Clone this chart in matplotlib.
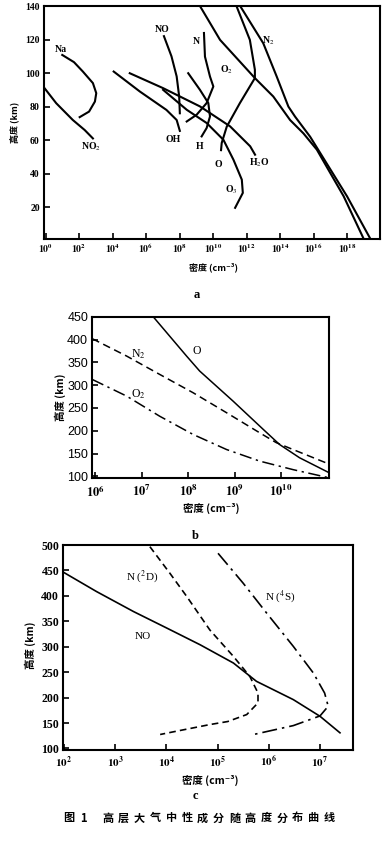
import numpy as np
import matplotlib
matplotlib.use('Agg')
import matplotlib.pyplot as plt

plt.rcParams['mathtext.fontset'] = 'stix'
plt.rcParams['font.family'] = ['Liberation Serif', 'DejaVu Serif']

CJK = ['Noto Sans CJK SC', 'DejaVu Sans']

# ---------------- Panel a : log10(density cm^-3) vs altitude (km) ----------------
a_xtick_exp = [0, 2, 4, 6, 8, 10, 12, 14, 16, 18]
a_yticks = [20, 40, 60, 80, 100, 120, 140]

na_logn = [1.0, 1.7, 2.23, 2.83, 3.03, 2.95, 2.6, 2.04]
na_alt = [110.8, 106.5, 100.9, 94, 88, 83, 77, 73.7]
no2_logn = [-0.06, 0.64, 1.63, 2.34, 2.83]
no2_alt = [91, 82, 72, 66, 61]
oh_logn = [4.07, 5.63, 7.22, 7.83, 8.02]
oh_alt = [100.9, 89, 78, 72, 65.5]
no_logn = [7.07, 7.52, 7.83, 7.98, 8.02]
no_alt = [122, 110, 98, 86, 76]
n_logn = [9.46, 9.52, 9.82, 10.02, 9.62, 9.02, 8.43]
n_alt = [123.9, 109.8, 97.9, 92, 82.1, 75.1, 71.1]
h_logn = [8.52, 9.22, 9.72, 9.82, 9.62, 9.32]
h_alt = [99.9, 90, 82.1, 74.1, 67.2, 62.2]
h2o_logn = [5.03, 7.02, 9.22, 11.02, 12.22, 12.51]
h2o_alt = [99.9, 91.0, 80.1, 68.2, 56.3, 51.3]
o3_logn = [7.02, 8.43, 9.62, 10.62, 11.22, 11.72, 11.78, 11.32]
o3_alt = [90, 78.1, 70.2, 60.2, 48.3, 36.4, 28.5, 19.6]
o_logn = [11.4, 12.2, 12.5, 12.5, 11.6, 10.82, 10.52, 10.48]
o_alt = [140, 119.8, 102, 97, 82, 68, 58.3, 54]
o2_logn = [9.22, 10.42, 12.5, 13.6, 14.6, 15.4, 16.2, 17.8, 19.0]
o2_alt = [140, 119.8, 97, 86, 72, 64, 54.3, 26.5, 1]
n2_logn = [11.62, 13.0, 13.8, 14.5, 14.9, 15.8, 18.0, 19.4]
n2_alt = [140, 117.8, 98, 80, 74, 62, 26.5, 1]

a_curves = [(na_logn, na_alt), (no2_logn, no2_alt), (oh_logn, oh_alt), (no_logn, no_alt),
            (n_logn, n_alt), (h_logn, h_alt), (h2o_logn, h2o_alt), (o3_logn, o3_alt),
            (o_logn, o_alt), (o2_logn, o2_alt), (n2_logn, n2_alt)]
a_labels = [('Na', 0.94, 114), (r'NO$_2$', 2.74, 56), ('OH', 7.62, 60.6), ('H', 9.18, 56),
            ('O', 10.32, 45.4), (r'H$_2$O', 12.75, 46.4), (r'O$_3$', 11.12, 30.5),
            (r'O$_2$', 10.82, 102), ('NO', 6.99, 126), ('N', 8.98, 119), (r'N$_2$', 13.3, 119)]

# ---------------- Panel b ----------------
b_xtick_exp = [6, 7, 8, 9, 10]
b_yticks = [100, 150, 200, 250, 300, 350, 400, 450]
bo_logn = [7.25, 7.97, 8.25, 8.97, 9.62, 9.97, 10.4, 11.04]
bo_alt = [450, 363.6, 331, 265, 203, 170, 141, 108]
bn2_logn = [5.94, 6.68, 7.39, 8.11, 8.83, 9.54, 9.9, 10.26, 11.04]
bn2_alt = [401.8, 363.7, 323.6, 283.4, 239.6, 195.8, 174, 159, 127]
bo2_logn = [5.94, 6.68, 7.39, 8.11, 8.83, 9.54, 10.26, 11.04]
bo2_alt = [312.5, 276, 232, 192, 159, 133.7, 115, 97]
b_labels = [('O', 8.18, 374.6), (r'N$_2$', 6.93, 367), (r'O$_2$', 6.93, 280)]

# ---------------- Panel c ----------------
c_xtick_exp = [2, 3, 4, 5, 6, 7]
c_yticks = [100, 150, 200, 250, 300, 350, 400, 450, 500]
cno_logn = [2.0, 2.64, 3.36, 4.01, 4.66, 5.31, 5.76, 6.48, 7.0, 7.39]
cno_alt = [446, 408.4, 369.2, 336.7, 303.9, 268, 232, 196, 163.3, 130.8]
cn2d_logn = [3.68, 4.07, 4.4, 4.85, 5.31, 5.63, 5.79, 5.79, 5.57, 5.2, 4.85, 4.2, 3.88]
cn2d_alt = [496.7, 444.5, 398.7, 333, 281, 241.8, 209, 189.6, 166.7, 153, 147, 134, 127.5]
cn4s_logn = [5.01, 5.5, 5.96, 6.48, 6.87, 7.09, 7.16, 7.0, 6.48, 5.66]
cn4s_alt = [483.7, 425, 366, 300.6, 248.4, 209, 183, 164, 145, 126.5]
c_labels = [(r'N ($^2$D)', 3.52, 437.8), (r'N ($^4$S)', 6.22, 398.6), ('NO', 3.55, 320)]

W, H = 388, 850
fig = plt.figure(figsize=(W / 100, H / 100), dpi=100)


def add_ax(l, r, t, b):
    return fig.add_axes([l / W, 1 - b / H, (r - l) / W, (b - t) / H])


def style(ax, xexp, yticks, fs_x, fs_y, yfamily, yweight='bold'):
    ax.set_xscale('log')
    ax.set_xticks([10.0 ** e for e in xexp])
    ax.set_xticklabels([r'$\mathbf{10^{%d}}$' % e for e in xexp], fontsize=fs_x)
    ax.xaxis.set_minor_locator(matplotlib.ticker.NullLocator())
    ax.set_yticks(yticks)
    ax.set_yticklabels([str(v) for v in yticks], fontsize=fs_y, family=yfamily, fontweight=yweight)
    ax.tick_params(direction='in', length=4, width=1.2, pad=3)
    for s in ax.spines.values():
        s.set_linewidth(1.5)


# Panel a
axa = add_ax(44, 380, 6, 239)
for lg, al in a_curves:
    axa.plot(10.0 ** np.array(lg), al, color='black', lw=1.5)
for t, lx, ly in a_labels:
    axa.text(10.0 ** lx, ly, t, fontsize=7, ha='center', va='center', fontweight='bold')
axa.set_xlim(10 ** -0.09, 10 ** 19.97)
axa.set_ylim(1, 140)
style(axa, a_xtick_exp, a_yticks, 7, 7, ['Liberation Serif'])
axa.tick_params(axis='x', pad=2)

# Panel b
axb = add_ax(92.3, 329.3, 316.7, 478.3)
axb.plot(10.0 ** np.array(bo_logn), bo_alt, color='black', lw=1.1)
axb.plot(10.0 ** np.array(bn2_logn), bn2_alt, color='black', lw=1.1, ls=(0, (5, 3)))
axb.plot(10.0 ** np.array(bo2_logn), bo2_alt, color='black', lw=1.1, ls=(0, (8, 3, 1.5, 3)))
for t, lx, ly in b_labels:
    axb.text(10.0 ** lx, ly, t, fontsize=8.5, ha='center', va='center')
axb.set_xlim(10 ** 5.94, 10 ** 11.04)
axb.set_ylim(96, 450)
style(axb, b_xtick_exp, b_yticks, 9, 9, ['Liberation Sans'], 'normal')
axb.tick_params(axis='x', pad=4)

# Panel c
axc = add_ax(63.3, 353.3, 545, 749.5)
axc.plot(10.0 ** np.array(cno_logn), cno_alt, color='black', lw=1.2)
axc.plot(10.0 ** np.array(cn2d_logn), cn2d_alt, color='black', lw=1.2, ls=(0, (4, 2.5)))
axc.plot(10.0 ** np.array(cn4s_logn), cn4s_alt, color='black', lw=1.2, ls=(0, (9, 3, 1.5, 3)))
for t, lx, ly in c_labels:
    axc.text(10.0 ** lx, ly, t, fontsize=8, ha='center', va='center')
axc.set_xlim(10 ** 1.99, 10 ** 7.65)
axc.set_ylim(98, 500)
style(axc, c_xtick_exp, c_yticks, 8, 8.5, ['Liberation Serif'])
axc.tick_params(axis='x', pad=4)

# Axis titles (Chinese)
fig.text(15 / W, 1 - 122 / H, '高度 (km)', rotation=90, ha='center', va='center',
         fontsize=6.5, family=CJK, fontweight='bold')
fig.text(213 / W, 1 - 267 / H, '密度 (cm⁻³)', ha='center', va='center',
         fontsize=6.5, family=CJK, fontweight='bold')
fig.text(60 / W, 1 - 397 / H, '高度 (km)', rotation=90, ha='center', va='center',
         fontsize=7.5, family=CJK, fontweight='bold')
fig.text(211 / W, 1 - 508 / H, '密度 (cm⁻³)', ha='center', va='center',
         fontsize=7.5, family=CJK, fontweight='bold')
fig.text(30 / W, 1 - 645 / H, '高度 (km)', rotation=90, ha='center', va='center',
         fontsize=7.5, family=CJK, fontweight='bold')
fig.text(210 / W, 1 - 780 / H, '密度 (cm⁻³)', ha='center', va='center',
         fontsize=7.5, family=CJK, fontweight='bold')

# Panel letters
fig.text(197 / W, 1 - 295 / H, 'a', ha='center', va='center', fontsize=9, fontweight='bold')
fig.text(195 / W, 1 - 536 / H, 'b', ha='center', va='center', fontsize=9, fontweight='bold')
fig.text(195 / W, 1 - 796 / H, 'c', ha='center', va='center', fontsize=9, fontweight='bold')

# Caption
fig.text(63 / W, 1 - 818 / H, '图', ha='left', va='center', fontsize=8, family=CJK, fontweight='bold')
fig.text(80 / W, 1 - 818 / H, '1', ha='left', va='center', fontsize=8, family=CJK, fontweight='bold')
cap = '高层大气中性成分随高度分布曲线'
for i, ch in enumerate(cap):
    fig.text((108 + i * 15.8) / W, 1 - 818 / H, ch, ha='center', va='center',
             fontsize=8, family=CJK, fontweight='bold')

fig.savefig('out.png', dpi=100)
